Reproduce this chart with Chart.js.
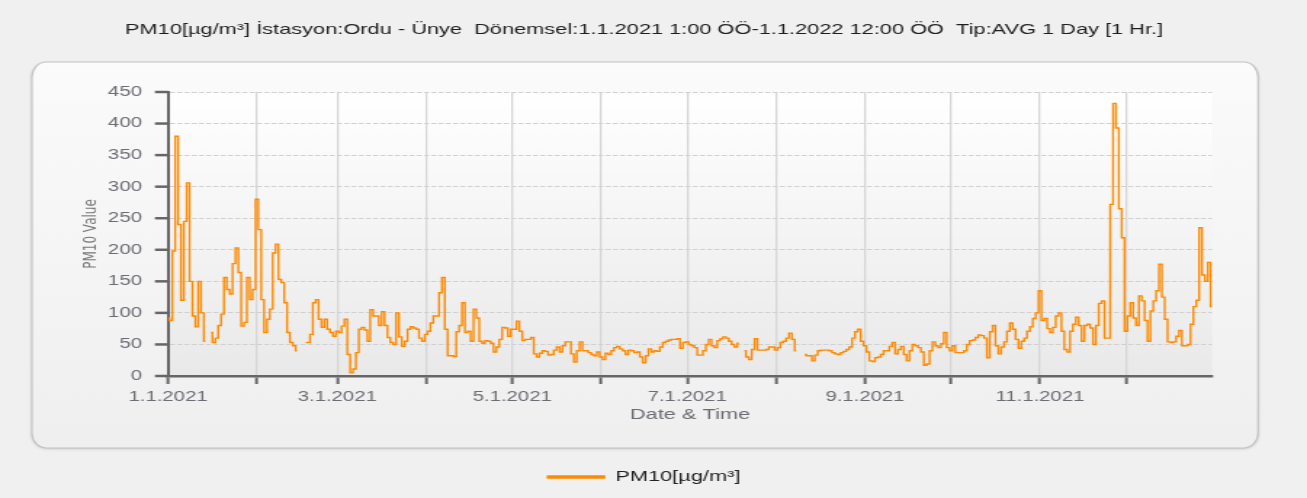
<!DOCTYPE html>
<html>
<head>
<meta charset="utf-8">
<script src="https://cdn.jsdelivr.net/npm/chart.js@4.4.1/dist/chart.umd.min.js"></script>
<style>
  html, body { margin: 0; padding: 0; background: #f0f0f0; overflow: hidden; }
  /* the reference is stretched sideways, so draw narrow and scale it out */
  #wrap { width: 900px; height: 498px; transform: scaleX(1.45222); transform-origin: 0 0; }
</style>
</head>
<body>
<div id="wrap"><canvas id="myChart" width="900" height="498"></canvas></div>
<script>
// Daily PM10 values (null = no data)
const jan = [92, 88, 198, 380, 240, 120, 245, 306, 150, 95, 78, 150, 100, 55, null, 69, 53, 60, 80, 98, 156, 137, 130, 178, 203, 164, 79, 85, 156, 121, 137];
const feb = [280, 232, 121, 69, 90, 106, 195, 209, 153, 148, 116, 69, 53, 48, 40, null, null, 53, 53, 66, 116, 121, 90, 77, 90, 74, 69, 63];
const mar = [71, 69, 79, 90, 34, 5, 11, 37, 74, 77, 73, 55, 105, 95, 95, 80, 102, 80, 61, 53, 50, 100, 62, 47, 55, 74, 78, 76, 74, 60, 55];
const apr = [66, 71, 84, 95, 95, 132, 156, 74, 32, 32, 31, 70, 80, 116, 69, 71, 55, 106, 92, 55, 52, 56, 55, 52, 38, 46, 58, 77, 76, 63];
const may = [74, 74, 87, 71, 56, 58, 58, 61, 35, 30, 36, 40, 39, 33, 34, 41, 46, 38, 48, 54, 54, 35, 22, 40, 54, 40, 40, 37, 34, 32, 38];
const jun = [30, 26, 36, 34, 40, 45, 47, 43, 40, 34, 41, 40, 37, 38, 30, 21, 32, 43, 38, 40, 39, 46, 53, 55, 57, 58, 58, 59, 44, 53];
const jul = [54, 50, 48, 45, 33, 33, 40, 50, 58, 48, 45, 56, 59, 62, 60, 55, 50, 46, 52, null, 40, 30, 26, 42, 59, 41, 41, 41, 42, 46, 46];
const aug = [41, 45, 53, 55, 60, 68, 58, 40, null, null, 34, 32, 32, 24, 33, 40, 41, 41, 41, 40, 37, 35, 34, 37, 39, 42, 46, 60, 70, 74, 55];
const sep = [48, 38, 24, 23, 29, 30, 34, 40, 40, 47, 53, 35, 42, 47, 34, 24, 40, 50, 48, 45, 38, 17, 19, 40, 54, 48, 45, 51, 69, 45];
const oct = [40, 48, 37, 37, 37, 40, 50, 56, 57, 61, 65, 64, 60, 29, 70, 80, 48, 35, 46, 54, 71, 84, 74, 58, 44, 55, 60, 71, 78, 91, 100];
const nov = [135, 88, 91, 75, 69, 77, 95, 100, 71, 42, 38, 71, 82, 93, 80, 55, 80, 82, 76, 50, 80, 115, 119, 60, 60, 272, 432, 393, 265, 219];
const dec = [71, 95, 116, 92, 80, 127, 119, 88, 55, 103, 119, 135, 177, 125, 90, 54, 53, 54, 63, 72, 48, 48, 50, 82, 110, 120, 235, 160, 150, 180, 110];

const pm10 = [...jan, ...feb, ...mar, ...apr, ...may, ...jun, ...jul, ...aug, ...sep, ...oct, ...nov, ...dec];

// x axis: day of year where each month starts, and the labels under them
const monthStartDays = [0, 31, 59, 90, 120, 151, 181, 212, 243, 273, 304, 334];
const monthTickLabels = ['1.1.2021', '', '3.1.2021', '', '5.1.2021', '', '7.1.2021', '', '9.1.2021', '', '11.1.2021', ''];

const seriesLabel = 'PM10[µg/m³]';
const titleText = 'PM10[µg/m³] İstasyon:Ordu - Ünye  Dönemsel:1.1.2021 1:00 ÖÖ-1.1.2022 12:00 ÖÖ  Tip:AVG 1 Day [1 Hr.]';

const FONT = 'Liberation Sans, Arial, sans-serif';
const AXIS_GREY = '#666666';


// rounded panel behind the chart + gradient in the plot area
const panelPlugin = {
    id: 'panel',
    beforeDraw(chart) {
        const { ctx, chartArea: a } = chart;
        ctx.save();
        ctx.beginPath();
        ctx.roundRect(22, 62, 844.3, 386, [{ x: 10, y: 15 }]);
        const g = ctx.createLinearGradient(0, 62, 0, 448);
        g.addColorStop(0, '#fbfbfb');
        g.addColorStop(1, '#efefef');
        ctx.shadowColor = 'rgba(0,0,0,0.18)';
        ctx.shadowBlur = 3;
        ctx.shadowOffsetY = 1;
        ctx.fillStyle = g;
        ctx.fill();
        ctx.shadowColor = 'transparent';
        ctx.strokeStyle = '#c4c4c4';
        ctx.lineWidth = 1.2;
        ctx.stroke();

        const pg = ctx.createLinearGradient(0, a.top, 0, a.bottom);
        pg.addColorStop(0, '#ffffff');
        pg.addColorStop(1, '#e9e9e9');
        ctx.fillStyle = pg;
        ctx.fillRect(a.left, a.top, a.right - a.left, a.bottom - a.top);
        ctx.restore();
    }
};

// long marks every 50, short ones every 25 on the value axis
const yTickMarks = {
    id: 'yTickMarks',
    afterDraw(chart) {
        const { ctx } = chart;
        const y = chart.scales.y;
        ctx.save();
        ctx.strokeStyle = AXIS_GREY;
        ctx.lineWidth = 2.5;
        y.ticks.forEach(t => {
            const py = y.getPixelForValue(t.value);
            const len = t.value % 50 === 0 ? 9 : 5.5;
            ctx.beginPath();
            ctx.moveTo(y.right - len, py);
            ctx.lineTo(y.right, py);
            ctx.stroke();
        });
        ctx.restore();
    }
};

const ctx = document.getElementById('myChart').getContext('2d');

const config = {
    type: 'line',
    data: {
        datasets: [{
            label: seriesLabel,
            data: pm10.map((v, i) => ({ x: i, y: v })),
            borderColor: '#ff8a00',
            backgroundColor: '#ff8a00',
            borderWidth: 1.4,
            pointRadius: 0,
            stepped: 'middle',
            spanGaps: false,
            fill: false
        }]
    },
    options: {
        responsive: false,
        animation: false,
        devicePixelRatio: 1,
        layout: { padding: { left: 0, right: 13, top: 0, bottom: 3.5 } },
        plugins: {
            title: {
                display: true,
                text: titleText,
                color: '#1e1e1e',
                font: { family: FONT, size: 15, weight: 'normal' },
                padding: { top: 21, bottom: 53 }
            },
            legend: {
                position: 'bottom',
                labels: {
                    boxWidth: 39,
                    boxHeight: 2,
                    padding: 10,
                    color: '#222222',
                    font: { family: FONT, size: 15 }
                }
            },
            tooltip: { enabled: false }
        },
        scales: {
            x: {
                type: 'linear',
                min: 0,
                max: 364,
                afterFit: s => { s.height = 83.5; },
                afterBuildTicks: s => { s.ticks = monthStartDays.map(v => ({ value: v })); },
                ticks: {
                    autoSkip: false,
                    maxRotation: 0,
                    padding: 5,
                    color: '#6c6c74',
                    font: { family: FONT, size: 14 },
                    callback: (v, i) => monthTickLabels[i]
                },
                grid: {
                    color: '#d6d6d6',
                    lineWidth: 1.3,
                    tickLength: 8,
                    tickColor: AXIS_GREY,
                    tickWidth: 2
                },
                border: { color: AXIS_GREY, width: 2.5 },
                title: {
                    display: true,
                    text: 'Date & Time',
                    color: '#6c6c74',
                    font: { family: FONT, size: 15 },
                    padding: { top: 0, bottom: 35.5 }
                }
            },
            y: {
                min: 0,
                max: 450,
                afterFit: s => { s.width = 115.7; },
                ticks: {
                    stepSize: 25,
                    padding: 18,
                    color: '#6c6c74',
                    font: { family: FONT, size: 14 },
                    callback: v => (v % 50 === 0 ? v : '')
                },
                grid: {
                    drawTicks: false,
                    lineWidth: 1,
                    color: c => (c.tick && c.tick.value > 0 && c.tick.value % 50 === 0) ? '#d0d0d0' : 'rgba(0,0,0,0)'
                },
                border: { color: AXIS_GREY, width: 2, dash: [3.5, 1.5] },
                title: {
                    display: true,
                    text: 'PM10 Value',
                    color: '#777777',
                    font: { family: 'DejaVu Sans, sans-serif', size: 12 },
                    padding: { top: 55.9, bottom: 0 }
                }
            },
            y2: {
                position: 'right',
                afterFit: s => { s.width = 52.4; },
                ticks: { display: false },
                grid: { display: false },
                border: { display: false }
            }
        }
    },
    plugins: [panelPlugin, yTickMarks]
};

window.myChart = new Chart(ctx, config);
</script>
</body>
</html>
